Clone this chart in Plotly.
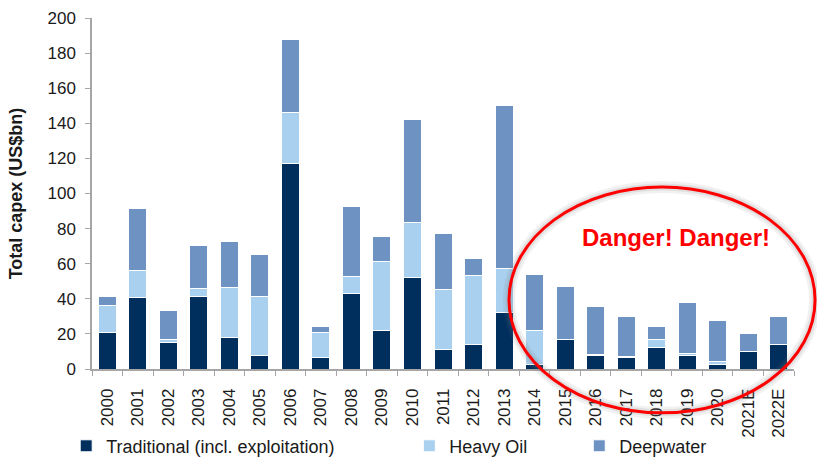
import plotly.graph_objects as go

years = ["2000", "2001", "2002", "2003", "2004", "2005", "2006", "2007", "2008", "2009",
         "2010", "2011", "2012", "2013", "2014", "2015", "2016", "2017", "2018", "2019",
         "2020", "2021E", "2022E"]
traditional = [21, 40.5, 15, 41.5, 18, 7.5, 117, 6.5, 43, 22, 52, 11, 14, 32, 2.5,
               17, 7.5, 6.5, 12, 7.5, 2.8, 10, 14]
heavy_oil = [15, 15.5, 2, 4.5, 28.5, 34, 29, 14.5, 9.5, 39, 31.5, 34.5, 39.5, 25, 19.5,
             0, 0.5, 0.5, 5, 1.5, 1.5, 0, 0]
deepwater = [5.5, 35.5, 16.5, 24.3, 26, 24, 41.5, 3, 40, 14.5, 58.5, 31.5, 9.5, 93, 32,
             30, 27.5, 23, 7, 29, 23.5, 10, 16]
y_ticks = [0, 20, 40, 60, 80, 100, 120, 140, 160, 180, 200]

FONT = "Liberation Sans, Arial, sans-serif"
C_TRAD = "#002F5E"
C_HEAVY = "#A9D0EE"
C_DEEP = "#6E93C3"

fig = go.Figure()
series = [
    ("Traditional (incl. exploitation)", traditional, C_TRAD, "legend", 0.081),
    ("Heavy Oil", heavy_oil, C_HEAVY, "legend2", 0.501),
    ("Deepwater", deepwater, C_DEEP, "legend3", 0.709),
]
legend_cfg = {}
for name, vals, col, lg, lx in series:
    fig.add_trace(go.Bar(x=years, y=vals, name=name, legend=lg,
                         marker=dict(color=col, line=dict(color="white", width=1))))
    legend_cfg[lg] = dict(xref="container", yref="container", x=lx, y=0.026,
                          xanchor="left", yanchor="middle", orientation="h",
                          font=dict(size=18, color="#1a1a1a"), itemwidth=30,
                          bgcolor="rgba(0,0,0,0)")

# ellipse (soft shadow + red outline)
ell = dict(type="circle", xref="paper", yref="paper", x0=0.594, x1=1.03, y0=-0.125, y1=0.5185)
fig.add_shape(**ell, line=dict(color="rgba(120,120,120,0.10)", width=12), layer="above")
fig.add_shape(**ell, line=dict(color="rgba(120,120,120,0.14)", width=7), layer="above")
fig.add_shape(**ell, line=dict(color="#FF0000", width=3), layer="above")

fig.add_annotation(text="<b>Danger! Danger!</b>", xref="paper", yref="paper",
                   x=0.832, y=0.376, xanchor="center", yanchor="middle", showarrow=False,
                   font=dict(family=FONT, size=24, color="#FF0000"))

fig.update_layout(
    width=817, height=458,
    margin=dict(l=92, r=23, t=18, b=89),
    paper_bgcolor="white", plot_bgcolor="white",
    barmode="stack", bargap=0.41,
    font=dict(family=FONT, size=17, color="#1a1a1a"),
    showlegend=True,
    xaxis=dict(type="category", tickangle=-90, showline=True, linecolor="#A6A6A6",
               linewidth=1.5, ticks="outside", tickson="boundaries", ticklen=5,
               tickcolor="#A6A6A6", showgrid=False, tickfont=dict(size=17),
               ticklabelstandoff=11, automargin=False),
    yaxis=dict(range=[0, 200], tickvals=y_ticks, showline=True, linecolor="#A6A6A6",
               linewidth=1.5, ticks="outside", ticklen=5, tickcolor="#A6A6A6",
               showgrid=False, zeroline=False, tickfont=dict(size=17),
               ticklabelstandoff=6, automargin=False,
               title=dict(text="<b>Total capex (US$bn)</b>", font=dict(size=18), standoff=20)),
    **legend_cfg,
)

fig.write_html("out.html", config={"displayModeBar": False},
               post_script="document.body.style.margin='0';")
